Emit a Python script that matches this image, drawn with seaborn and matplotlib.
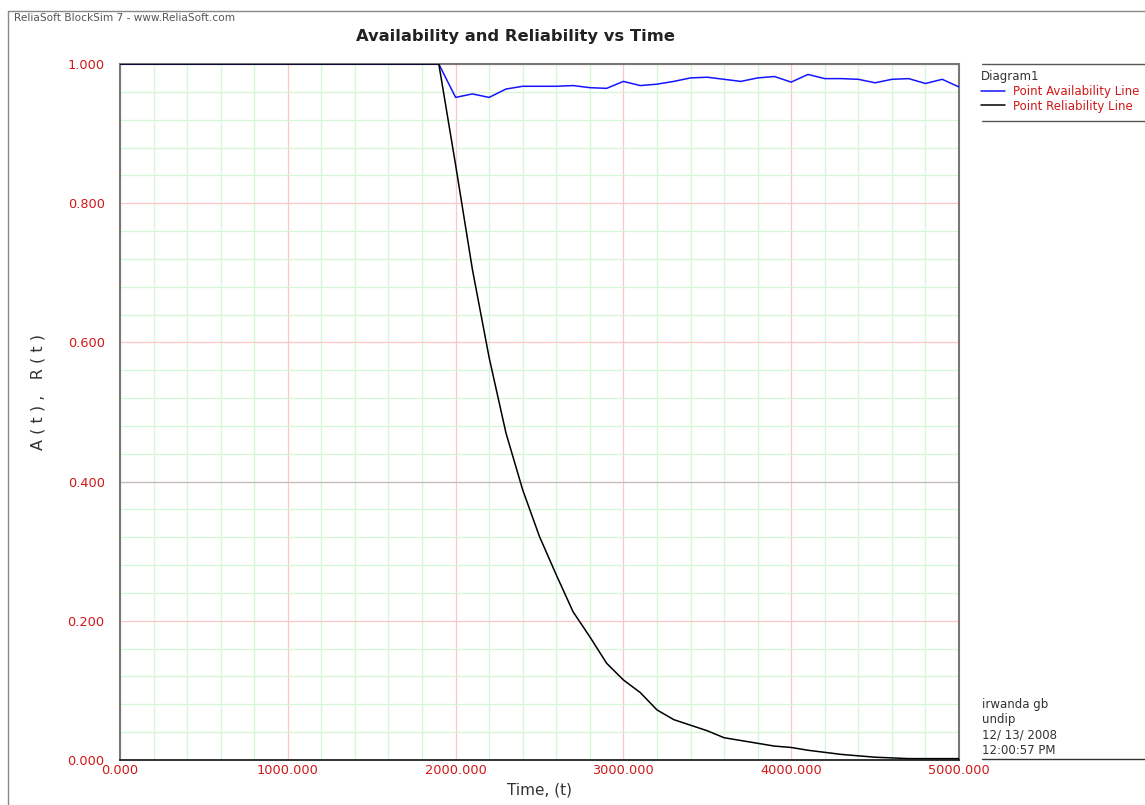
import seaborn as sns
import matplotlib.pyplot as plt
import pandas as pd
from matplotlib.lines import Line2D

# time grid, one point every 100 h
time = list(range(0, 5001, 100))

# point availability A(t)
availability = [1.0] * 20 + [
    0.952, 0.957, 0.952, 0.964, 0.968, 0.968, 0.968, 0.969, 0.966, 0.965,
    0.975, 0.969, 0.971, 0.975, 0.980, 0.981, 0.978, 0.975, 0.980, 0.982,
    0.974, 0.985, 0.979, 0.979, 0.978, 0.973, 0.978, 0.979, 0.972, 0.978,
    0.967,
]

# point reliability R(t)
reliability = [1.0] * 20 + [
    0.855, 0.705, 0.578, 0.470, 0.388, 0.321, 0.266, 0.213, 0.177, 0.139,
    0.115, 0.097, 0.072, 0.058, 0.050, 0.042, 0.032, 0.028, 0.024, 0.020,
    0.018, 0.014, 0.011, 0.008, 0.006, 0.004, 0.003, 0.002, 0.002, 0.002,
    0.002,
]

x_ticks = [0, 1000, 2000, 3000, 4000, 5000]
y_ticks = [0.0, 0.2, 0.4, 0.6, 0.8, 1.0]

df = pd.DataFrame({"time": time, "avail": availability, "rel": reliability})

sns.set_style("white")
plt.rcParams["font.family"] = ["DejaVu Sans"]

W, H = 1145, 805
fig = plt.figure(figsize=(W / 100, H / 100), dpi=100)
ax = fig.add_axes([120 / W, (H - 760) / H, 839 / W, 696 / H])

red = "#d01818"

# grid: minor lines only between the major ones
ax.set_xticks(x_ticks)
ax.set_xticks([v for v in range(0, 5001, 200) if v % 1000], minor=True)
ax.set_yticks(y_ticks)
ax.set_yticks([i * 0.04 for i in range(26) if i % 5], minor=True)
ax.grid(which="minor", color="#d6f7d6", lw=0.9)
ax.grid(which="major", color="#ffc6c6", lw=0.9)
ax.set_axisbelow(True)
ax.axhline(0.4, color="#c0c0c0", lw=0.9, zorder=1)

sns.lineplot(data=df, x="time", y="avail", color="#1414ff", lw=1.1, ax=ax, zorder=3)
sns.lineplot(data=df, x="time", y="rel", color="black", lw=1.1, ax=ax, zorder=3)

ax.set_xlim(0, 5000)
ax.set_ylim(0, 1.0)
ax.set_xticklabels([f"{v:.3f}" for v in x_ticks], color=red, fontsize=9.3)
ax.set_yticklabels([f"{v:.3f}" for v in y_ticks], color=red, fontsize=9.3)
ax.tick_params(axis="x", which="both", length=0, pad=3)
ax.tick_params(axis="y", which="major", length=5, color="#777777", width=1, pad=6)
ax.tick_params(axis="y", which="minor", length=0)

for side in ["left", "top", "right"]:
    ax.spines[side].set_color("#777777")
    ax.spines[side].set_linewidth(1.5)
ax.spines["bottom"].set_color("#222222")
ax.spines["bottom"].set_linewidth(1.3)

ax.set_xlabel("Time, (t)", fontsize=11, color="#333333", labelpad=4)
ax.set_ylabel("A ( t ) ,   R ( t )", fontsize=11.5, color="#333333")
ax.yaxis.set_label_coords(-0.089, 0.529)

# header, title and frame
fig.text(14 / W, 1 - 18 / H, "ReliaSoft BlockSim 7 - www.ReliaSoft.com",
         fontsize=7.6, color="#555555", va="center")
fig.text(515 / W, 1 - 36 / H, "Availability and Reliability vs Time",
         fontsize=11.8, fontweight="bold", color="#222222", ha="center", va="center")
fig.add_artist(Line2D([8 / W, 8 / W], [0, 1 - 11 / H], color="#888888", lw=1))
fig.add_artist(Line2D([8 / W, 1], [1 - 11 / H, 1 - 11 / H], color="#888888", lw=1))

# legend block
fig.add_artist(Line2D([982 / W, 1], [1 - 64 / H] * 2, color="#555555", lw=1))
fig.add_artist(Line2D([982 / W, 1], [1 - 121 / H] * 2, color="#555555", lw=1))
handles = [
    Line2D([0], [0], color="#1414ff", lw=1.1),
    Line2D([0], [0], color="black", lw=1.1),
]
leg = ax.legend(
    handles=handles,
    labels=["Point Availability Line", "Point Reliability Line"],
    title="Diagram1",
    loc="upper left",
    bbox_to_anchor=(981 / W, 1 - 70 / H),
    bbox_transform=fig.transFigure,
    frameon=False,
    fontsize=8.5,
    title_fontsize=8.5,
    handlelength=2.0,
    handletextpad=0.7,
    borderpad=0,
    borderaxespad=0,
    labelspacing=0.15,
    alignment="left",
    labelcolor=red,
)
leg.get_title().set_color("#333333")

# user info block
fig.text(982 / W, 1 - 757 / H, "irwanda gb\nundip\n12/ 13/ 2008\n12:00:57 PM",
         fontsize=8.5, color="#333333", va="bottom", ha="left", linespacing=1.25)
fig.add_artist(Line2D([982 / W, 1], [1 - 759 / H] * 2, color="#333333", lw=1))

plt.savefig("out.png", dpi=100)
